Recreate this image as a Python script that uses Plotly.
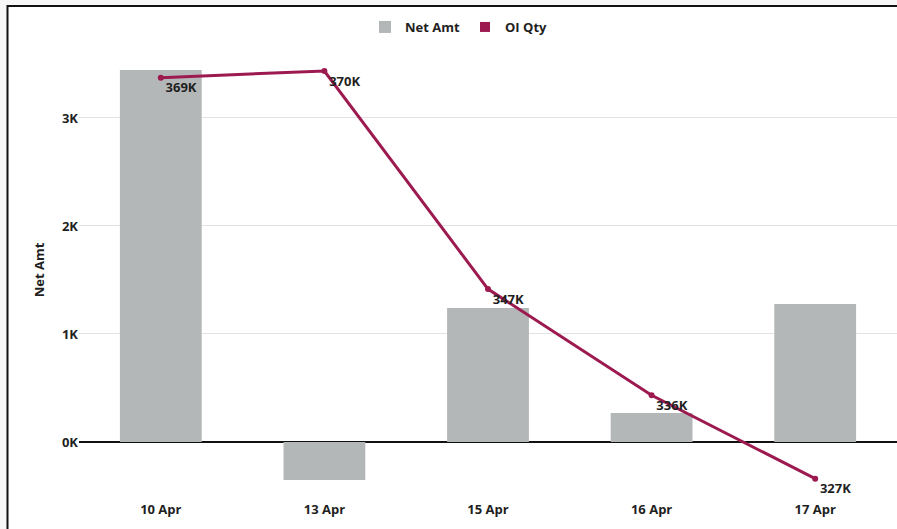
import plotly.graph_objects as go

# Daily data
dates = ["10 Apr", "13 Apr", "15 Apr", "16 Apr", "17 Apr"]
net_amt = [3444, -352, 1241, 269, 1278]
oi_qty = [369400, 370100, 347100, 335900, 327100]

net_amt_ticks = [0, 1000, 2000, 3000]
net_amt_tick_text = ["0K", "1K", "2K", "3K"]

oi_labels = [f"{round(v / 1000)}K" for v in oi_qty]

FONT = "Open Sans"
TEXT = "#1f1f1f"
BAR = "#b4b7b7"
LINE = "#9c1a50"

W, H = 897, 529
ML, MR, MT, MB = 79, 0, 40, 29
PW, PH = W - ML - MR, H - MT - MB


def px_x(px):
    return (px - ML) / PW


def px_y(py):
    return (H - MB - py) / PH


def bold(size=13):
    return dict(family=FONT, size=size, color=TEXT, weight=700)


fig = go.Figure()

fig.add_trace(go.Bar(
    x=dates, y=net_amt, name="Net Amt",
    marker=dict(color=BAR, line=dict(width=0)),
    width=0.5, yaxis="y",
))

fig.add_trace(go.Scatter(
    x=dates, y=oi_qty, name="OI Qty", yaxis="y2",
    mode="lines+markers+text",
    line=dict(color=LINE, width=3),
    marker=dict(color=LINE, size=6),
    text=oi_labels, textposition="bottom right",
    textfont=bold(13),
    showlegend=False,
))

# legend entry for the line, shown as a square swatch
fig.add_trace(go.Scatter(
    x=[None], y=[None], name="OI Qty", yaxis="y2", mode="markers",
    marker=dict(color=LINE, size=10, symbol="square"),
))

fig.update_layout(
    width=W, height=H,
    margin=dict(l=ML, r=MR, t=MT, b=MB),
    paper_bgcolor="#f7f7f7",
    plot_bgcolor="rgba(0,0,0,0)",
    font=bold(13),
    barmode="overlay",
    showlegend=True,
    legend=dict(
        orientation="h", x=px_x(459), xanchor="center",
        y=px_y(27), yanchor="middle",
        font=bold(13),
        itemwidth=30, bgcolor="rgba(0,0,0,0)",
    ),
    xaxis=dict(
        type="category", showgrid=False, showline=False, ticks="",
        tickfont=bold(13),
    ),
    yaxis=dict(
        range=[-537, 3722],
        tickvals=net_amt_ticks, ticktext=net_amt_tick_text,
        showgrid=True, gridcolor="#e3e3e3", gridwidth=1,
        zeroline=True, zerolinecolor="#111111", zerolinewidth=1.5,
        showline=False, ticks="",
        tickfont=bold(13),
        title=dict(text="Net Amt", standoff=14, font=bold(13)),
    ),
    yaxis2=dict(
        range=[324850, 373370], overlaying="y", side="right",
        visible=False, showgrid=False, zeroline=False,
    ),
    shapes=[
        dict(
            type="rect", xref="paper", yref="paper", layer="below",
            x0=px_x(7.5), x1=px_x(W + 20), y0=px_y(H + 20), y1=px_y(6),
            fillcolor="white", line=dict(color="#111111", width=2),
        )
    ],
)

fig.write_html("out.html")
